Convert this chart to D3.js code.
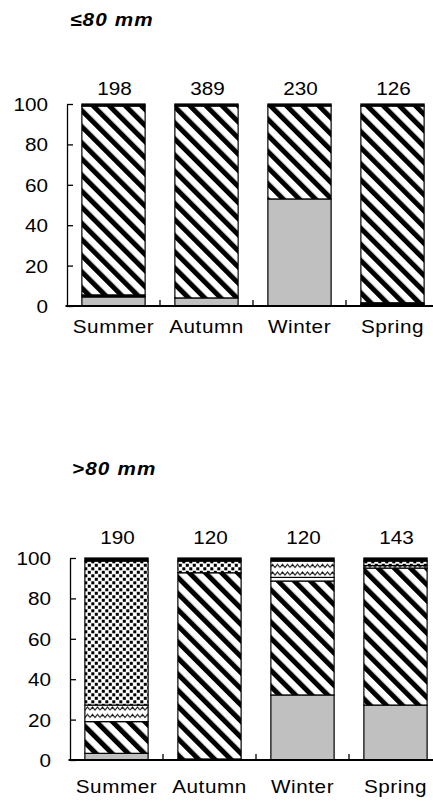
<!DOCTYPE html>
<html><head><meta charset="utf-8">
<script src="https://cdn.jsdelivr.net/npm/d3@7"></script>
<style>
body{margin:0;background:#fff}
svg{display:block}
text{font-family:"Liberation Sans",Arial,Helvetica,sans-serif;fill:#000}
</style>
</head><body>
<svg id="chart" width="433" height="802"></svg>
<script>
// ---------- data ----------
const seasons = ["Summer", "Autumn", "Winter", "Spring"];
const seriesKeys = ["grey", "black", "hatch", "blank", "wave", "dots", "top"];
const yTicks = [0, 20, 40, 60, 80, 100];

const smallTitle = "≤80 mm";
const smallN     = [198, 389, 230, 126];
const smallGrey  = [4.5, 4, 53, 0.8];
const smallBlack = [1, 0, 0, 0.8];
const smallHatch = [93.5, 95, 46, 97.4];
const smallBlank = [0, 0, 0, 0];
const smallWave  = [0, 0, 0, 0];
const smallDots  = [0, 0, 0, 0];
const smallTop   = [1, 1, 1, 1];

const largeTitle = ">80 mm";
const largeN     = [190, 120, 120, 143];
const largeGrey  = [3.3, 0.5, 32.2, 27.2];
const largeBlack = [0, 0, 0, 0];
const largeHatch = [15.7, 92.2, 56.4, 67.8];
const largeBlank = [0, 0, 1.8, 0];
const largeWave  = [8.2, 0, 8.1, 1.3];
const largeDots  = [71.3, 5.8, 0, 2.2];
const largeTop   = [1.5, 1.5, 1.5, 1.5];

// ---------- drawing ----------
const svg = d3.select("#chart");
const defs = svg.append("defs");
const FS = 18;
const SX = 1.15;   // horizontal glyph stretch seen in the reference

// diagonal hatch "\\\"
const ph = defs.append("pattern").attr("id", "p-hatch")
  .attr("patternUnits", "userSpaceOnUse").attr("width", 11.4).attr("height", 11.4)
  .attr("patternTransform", "rotate(-45)");
ph.append("rect").attr("width", 11.4).attr("height", 11.4).attr("fill", "#fff");
ph.append("rect").attr("width", 5).attr("height", 11.4).attr("fill", "#000");

// wavy lines
const pw = defs.append("pattern").attr("id", "p-wave")
  .attr("patternUnits", "userSpaceOnUse").attr("width", 10).attr("height", 7.5);
pw.append("rect").attr("width", 10).attr("height", 7.5).attr("fill", "#fff");
pw.append("path").attr("d", "M0,5 L2.5,2 L5,5 L7.5,2 L10,5")
  .attr("fill", "none").attr("stroke", "#000").attr("stroke-width", 1);

// square dots
const pd = defs.append("pattern").attr("id", "p-dots")
  .attr("patternUnits", "userSpaceOnUse").attr("width", 7).attr("height", 7);
pd.append("rect").attr("width", 7).attr("height", 7).attr("fill", "#fff");
pd.append("rect").attr("x", 0.3).attr("y", 0.3).attr("width", 3).attr("height", 3).attr("fill", "#000");
pd.append("rect").attr("x", 3.8).attr("y", 3.8).attr("width", 3).attr("height", 3).attr("fill", "#000");

const fills = {
  grey: "#c0c0c0", black: "#000", hatch: "url(#p-hatch)", blank: "#fff",
  wave: "url(#p-wave)", dots: "url(#p-dots)", top: "#000"
};

function panel(cfg) {
  const rows = seasons.map((s, i) => {
    const o = { season: s, n: cfg.n[i] };
    seriesKeys.forEach((k, j) => { o[k] = cfg.series[j][i]; });
    return o;
  });
  const g = svg.append("g");
  const y = d3.scaleLinear().domain([0, 100]).range([cfg.y0, cfg.y100]);
  const xb = d3.scaleBand().domain(seasons).range([cfg.left, cfg.right]).padding(0);
  const x = d3.scaleBand().domain(seasons).range([cfg.left, cfg.right])
    .paddingInner(0.32).paddingOuter(0.16);

  // title
  g.append("text").attr("transform", `translate(${cfg.titleX},${cfg.titleY}) scale(${SX},1)`)
    .attr("font-size", FS).attr("font-weight", "bold").attr("font-style", "italic")
    .attr("letter-spacing", 1).text(cfg.title);

  // stacked bars
  const stacked = d3.stack().keys(seriesKeys)(rows);
  g.append("g").selectAll("g").data(stacked).join("g")
    .attr("fill", d => fills[d.key])
    .selectAll("rect").data(d => d.filter(p => p[1] - p[0] > 0)).join("rect")
    .attr("x", d => x(d.data.season))
    .attr("width", x.bandwidth())
    .attr("y", d => y(d[1]))
    .attr("height", d => y(d[0]) - y(d[1]))
    .attr("stroke", "#000").attr("stroke-width", 1.2);

  // y axis
  const ya = g.append("g").attr("transform", `translate(${cfg.left},0)`)
    .call(d3.axisLeft(y).tickValues(yTicks).tickSizeInner(-6).tickSizeOuter(0).tickPadding(16.5));
  ya.select(".domain").attr("stroke-width", 1.3);
  ya.selectAll(".tick line").attr("stroke-width", 1.3);
  ya.selectAll("text").attr("font-size", FS).attr("font-family", null)
    .attr("dy", "0.36em").attr("transform", `scale(${SX},1)`);

  // x axis
  const xa = g.append("g").attr("transform", `translate(0,${cfg.y0})`)
    .call(d3.axisBottom(xb).tickSize(0).tickPadding(0));
  xa.select(".domain").attr("stroke-width", 2).attr("d", `M${cfg.left - 1.5},0H${cfg.right}`);
  xa.selectAll("text").attr("font-size", FS).attr("font-family", null)
    .attr("letter-spacing", 0.5).attr("dy", null).attr("y", cfg.catDy)
    .attr("transform", `scale(${SX},1)`);
  xa.selectAll(".bnd").data(seasons.slice(1)).join("line").attr("class", "bnd")
    .attr("x1", d => xb(d)).attr("x2", d => xb(d)).attr("y1", 0).attr("y2", -6)
    .attr("stroke", "#000").attr("stroke-width", 1.3);

  // n labels
  g.append("g").selectAll("text").data(rows).join("text")
    .attr("transform", d => `translate(${x(d.season) + x.bandwidth() / 2 + 1},${cfg.nY}) scale(${SX},1)`)
    .attr("text-anchor", "middle").attr("font-size", FS)
    .text(d => d.n);
}

panel({
  title: smallTitle, n: smallN,
  series: [smallGrey, smallBlack, smallHatch, smallBlank, smallWave, smallDots, smallTop],
  left: 67, right: 439, y0: 306, y100: 104,
  titleX: 70, titleY: 26, nY: 95, catDy: 27
});
panel({
  title: largeTitle, n: largeN,
  series: [largeGrey, largeBlack, largeHatch, largeBlank, largeWave, largeDots, largeTop],
  left: 70, right: 442, y0: 760, y100: 558,
  titleX: 72, titleY: 475, nY: 544, catDy: 33
});
</script>
</body></html>
